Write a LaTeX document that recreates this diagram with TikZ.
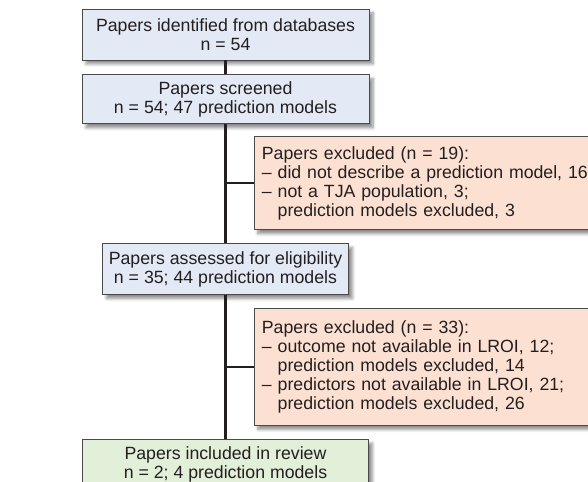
\documentclass[tikz,border=0pt]{standalone}
\usepackage{fontspec}
\setmainfont{Liberation Sans}
\usepackage{tikz}
\usetikzlibrary{positioning,calc,shadows.blur}
\definecolor{ink}{HTML}{231F20}
\definecolor{edge}{HTML}{4A4A4A}
\definecolor{paleblue}{HTML}{E3E9F5}
\definecolor{salmon}{HTML}{FCE1D2}
\definecolor{palegreen}{HTML}{E2EFD9}
\tikzset{
  every node/.style={font=\fontsize{12.6}{13.4}\selectfont,text=ink},
  stage/.style={draw=edge,line width=0.6pt,fill=paleblue,align=center,inner sep=2pt,minimum width=71.75mm,minimum height=12.75mm,
    blur shadow={shadow xshift=1mm,shadow yshift=-1mm,shadow blur steps=6,shadow opacity=45}},
  excl/.style={stage,fill=salmon,align=left,text width=82mm,minimum width=0pt,inner xsep=2mm},
  incl/.style={stage,fill=palegreen},
  link/.style={line width=1.7pt,draw=ink}
}
\newcommand{\cont}{\phantom{\textendash{} }}

\begin{document}
\begin{tikzpicture}
  \useasboundingbox (0,0) rectangle (147mm,-120.5mm);

  \node[stage] (found) at (56.375mm,-8.625mm) {Papers identified from databases\\n = 54};
  \node[stage,minimum height=12.25mm,below=3.5mm of found] (screen) {Papers screened\\n = 54; 47 prediction models};
  \node[excl,minimum height=23.25mm,below right=3mm and 7mm of screen.south] (out1) {Papers excluded (n = 19):\\
    \textendash{} did not describe a prediction model, 16\\
    \textendash{} not a TJA population, 3;\\
    \cont prediction models excluded, 3};
  \node[stage,minimum width=61.5mm,anchor=north] (assess) at ($(screen.south |- out1.south)+(0,-3.25mm)$) {Papers assessed for eligibility\\n = 35; 44 prediction models};
  \node[excl,minimum height=29.25mm,below right=3.25mm and 7mm of assess.south] (out2) {Papers excluded (n = 33):\\
    \textendash{} outcome not available in LROI, 12;\\
    \cont prediction models excluded, 14\\
    \textendash{} predictors not available in LROI, 21;\\
    \cont prediction models excluded, 26};
  \node[incl,minimum width=71.5mm,anchor=north] (review) at ($(screen.south |- out2.south)+(0,-3.25mm)$) {Papers included in review\\n = 2; 4 prediction models};

  \draw[link] (found)--(screen);
  \draw[link] (screen)--(assess);
  \draw[link] (assess)--(review);
  \draw[link] (screen.south |- out1.west)--(out1.west);
  \draw[link] (assess.south |- out2.west)--(out2.west);
\end{tikzpicture}
\end{document}
